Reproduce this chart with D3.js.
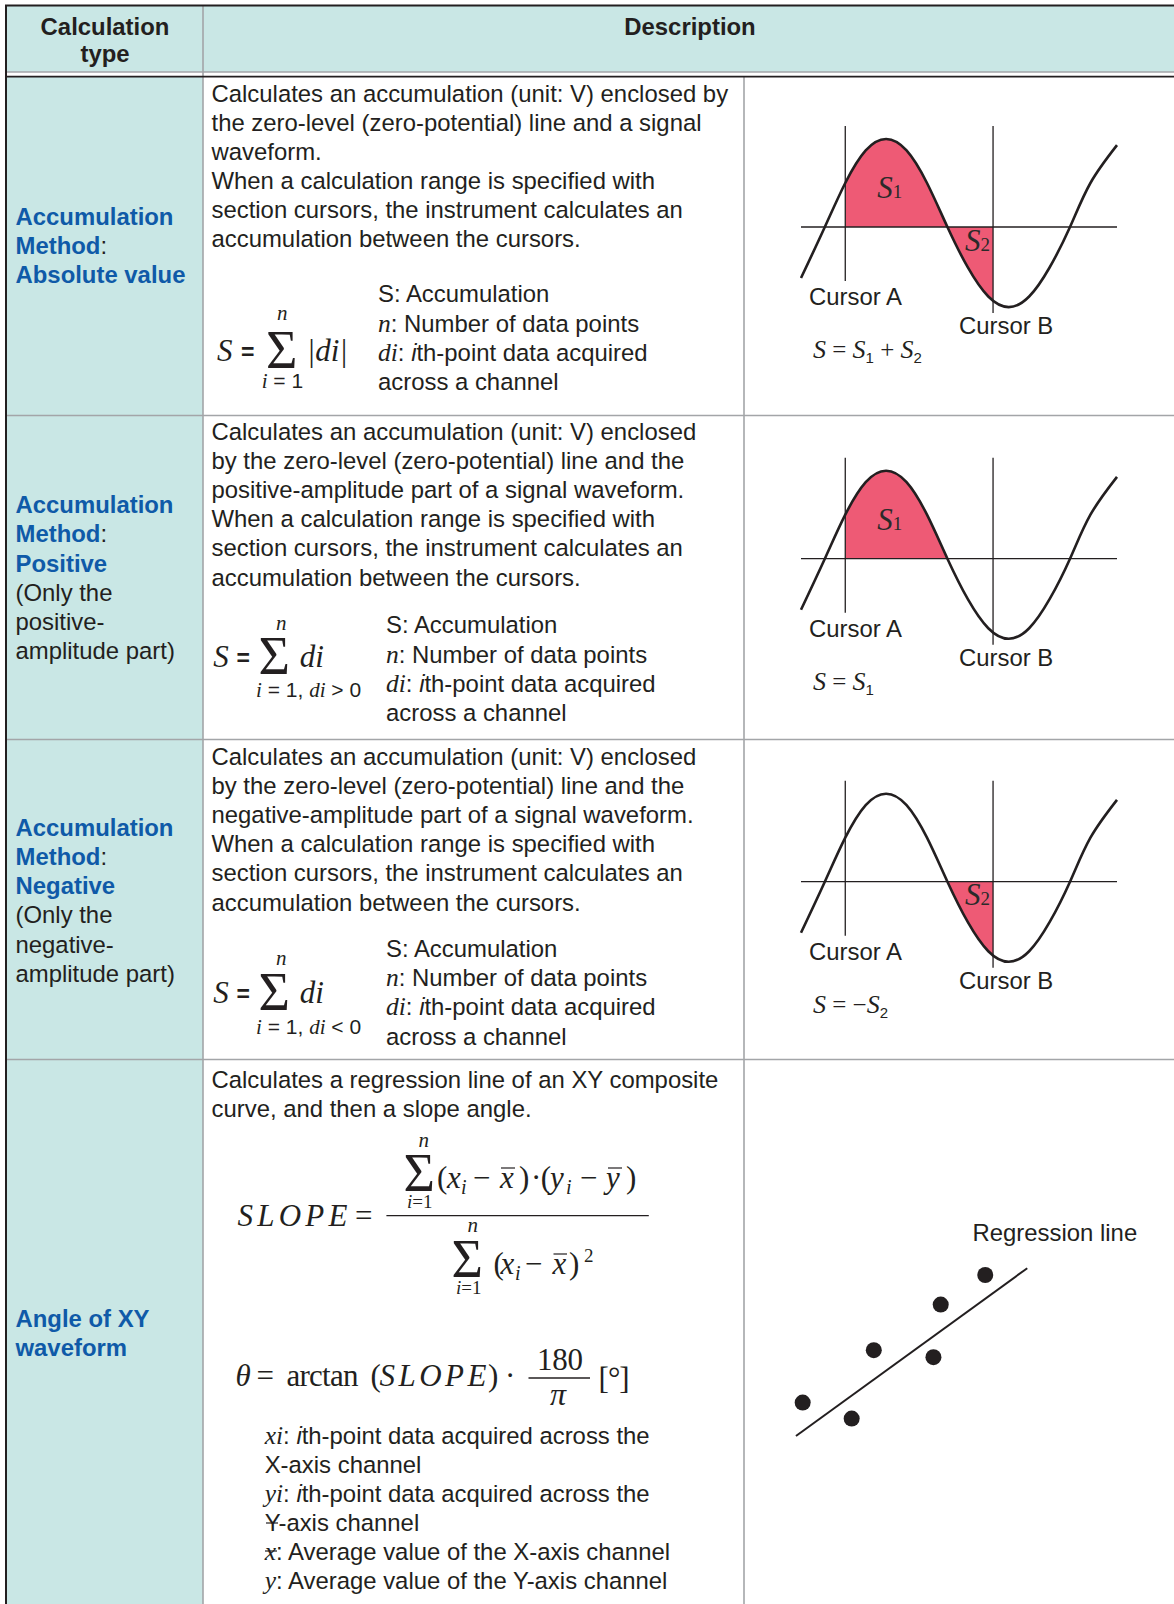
<!DOCTYPE html>
<html><head><meta charset="utf-8">
<script src="https://cdn.jsdelivr.net/npm/d3@7"></script>
<style>html,body{margin:0;padding:0;background:#fff}svg{display:block}</style>
</head><body><div id="chart"></div>
<script>
// ---------------- data ----------------
const headerLabels = [["Calculation", "type"], ["Description"]];

const typeLabels = [
  ["Accumulation", "Method:", "Absolute value"],
  ["Accumulation", "Method:", "Positive", "(Only the", "positive-", "amplitude part)"],
  ["Accumulation", "Method:", "Negative", "(Only the", "negative-", "amplitude part)"],
  ["Angle of XY", "waveform"]
];
const typeBlueLines = [3, 3, 3, 2];

const descLines = [
  ["Calculates an accumulation (unit: V) enclosed by",
   "the zero-level (zero-potential) line and a signal",
   "waveform.",
   "When a calculation range is specified with",
   "section cursors, the instrument calculates an",
   "accumulation between the cursors."],
  ["Calculates an accumulation (unit: V) enclosed",
   "by the zero-level (zero-potential) line and the",
   "positive-amplitude part of a signal waveform.",
   "When a calculation range is specified with",
   "section cursors, the instrument calculates an",
   "accumulation between the cursors."],
  ["Calculates an accumulation (unit: V) enclosed",
   "by the zero-level (zero-potential) line and the",
   "negative-amplitude part of a signal waveform.",
   "When a calculation range is specified with",
   "section cursors, the instrument calculates an",
   "accumulation between the cursors."],
  ["Calculates a regression line of an XY composite",
   "curve, and then a slope angle."]
];

const accLegend = [
  [["S: Accumulation", "s"]],
  [["n", "mi"], [": Number of data points", "s"]],
  [["di", "mi"], [": ", "s"], ["i", "si"], ["th-point data acquired", "s"]],
  [["across a channel", "s"]]
];
const accSumTerms = ["|di|", "di", "di"];
const accSumLower = [
  [["i", "mi"], [" = 1", "s"]],
  [["i", "mi"], [" = 1, ", "s"], ["di", "mi"], [" > 0", "s"]],
  [["i", "mi"], [" = 1, ", "s"], ["di", "mi"], [" < 0", "s"]]
];

// waveform: phase (deg) and normalised level
const waveDeg = [-35, 0, 30, 60, 90, 120, 150, 180, 210, 240, 270, 300, 330, 360, 390, 429];
const waveVal = [-0.58, 0, 0.5, 0.87, 1, 0.87, 0.5, 0, -0.46, -0.79, -0.91, -0.79, -0.46, 0, 0.5, 0.93];
const cursorDeg = [30, 247];
const cursorNames = ["Cursor A", "Cursor B"];
const fillRegions = [["S1", "S2"], ["S1"], ["S2"]];
const diagFormulas = [
  [["S", "mi"], [" = ", "m"], ["S", "mi"], ["1", "sub"], [" + ", "m"], ["S", "mi"], ["2", "sub"]],
  [["S", "mi"], [" = ", "m"], ["S", "mi"], ["1", "sub"]],
  [["S", "mi"], [" = \u2212", "m"], ["S", "mi"], ["2", "sub"]]
];

// XY scatter + regression line
const scatterX = [0.81, 2.56, 3.35, 5.48, 5.74, 7.33];
const scatterY = [1.87, 1.07, 4.49, 4.14, 6.77, 8.25];
const regX = [0.57, 8.83];
const regY = [0.20, 8.59];
const regLabel = "Regression line";

const slopeLegend = [
  [["xi", "mi"], [": ", "s"], ["i", "si"], ["th-point data acquired across the", "s"]],
  [["X-axis channel", "s"]],
  [["yi", "mi"], [": ", "s"], ["i", "si"], ["th-point data acquired across the", "s"]],
  [["Y-axis channel", "s"]],
  [["x", "mi"], [": Average value of the X-axis channel", "s"]],
  [["y", "mi"], [": Average value of the Y-axis channel", "s"]]
];

// ---------------- style ----------------
const INK = "#231f20", BLUE = "#0f5aa8", TEAL = "#c9e7e5", GRID = "#a3a5a8", PINK = "#ee5a75";
const SANS = "'Liberation Sans', Arial, Helvetica, sans-serif";
const SERIF = "'Liberation Serif', 'Times New Roman', serif";
const FS = 23.9;

const svg = d3.select("#chart").append("svg")
  .attr("width", 1174).attr("height", 1604).attr("viewBox", "0 0 1174 1604");
svg.append("rect").attr("width", 1174).attr("height", 1604).attr("fill", "#fff");

function txt(x, y, s, o = {}) {
  const t = svg.append("text").attr("x", x).attr("y", y).text(s)
    .attr("font-family", o.ff || SANS).attr("font-size", o.fs || FS)
    .attr("fill", o.fill || INK);
  if (o.it) t.attr("font-style", "italic");
  if (o.b) t.attr("font-weight", "bold");
  if (o.anchor) t.attr("text-anchor", o.anchor);
  if (o.len) t.attr("textLength", o.len).attr("lengthAdjust", "spacing");
  return t;
}
const STY = {
  s:   {ff: SANS},
  si:  {ff: SANS, it: true},
  mi:  {ff: SERIF, it: true, fs: 25.5},
  m:   {ff: SERIF, fs: 25},
  sub: {ff: SANS, fs: 15, dy: 5}
};
function rich(x, y, parts, o = {}) {
  const t = svg.append("text").attr("x", x).attr("y", y)
    .attr("font-family", SANS).attr("font-size", o.fs || FS).attr("fill", INK);
  let shift = 0;
  parts.forEach(([str, k]) => {
    const st = Object.assign({}, STY[k], (o.over || {})[k] || {});
    const sp = t.append("tspan").text(str).attr("font-family", st.ff);
    if (st.fs) sp.attr("font-size", st.fs);
    if (st.it) sp.attr("font-style", "italic");
    const want = st.dy || 0;
    if (want - shift) sp.attr("dy", want - shift);
    shift = want;
  });
  return t;
}
function hline(x1, x2, y, c, w) {
  svg.append("line").attr("x1", x1).attr("x2", x2).attr("y1", y).attr("y2", y).attr("stroke", c).attr("stroke-width", w);
}
function vline(x, y1, y2, c, w) {
  svg.append("line").attr("x1", x).attr("x2", x).attr("y1", y1).attr("y2", y2).attr("stroke", c).attr("stroke-width", w);
}

// ---------------- table frame ----------------
svg.append("rect").attr("x", 7).attr("y", 6).attr("width", 1167).attr("height", 66).attr("fill", TEAL);
svg.append("rect").attr("x", 7).attr("y", 77).attr("width", 196).attr("height", 1527).attr("fill", TEAL);

const rowLinesY = [415.5, 739.5, 1059.5];
hline(6, 1174, 72, GRID, 1.5);
rowLinesY.forEach(y => hline(6, 1174, y, GRID, 1.6));
vline(203, 6, 1604, GRID, 1.6);
vline(744, 77, 1604, GRID, 1.6);
hline(5, 1174, 76.6, INK, 1.6);
hline(5, 1174, 5.5, INK, 2);
vline(6, 5, 1604, INK, 2);

// ---------------- header ----------------
txt(105, 35, headerLabels[0][0], {b: true, anchor: "middle"});
txt(105, 62, headerLabels[0][1], {b: true, anchor: "middle"});
txt(690, 35, headerLabels[1][0], {b: true, anchor: "middle"});

// ---------------- left column ----------------
const typeY0 = [225, 513.3, 836, 1327];
typeLabels.forEach((lines, r) => {
  lines.forEach((s, i) => {
    const y = typeY0[r] + i * 29.15;
    if (i < typeBlueLines[r]) {
      if (s.endsWith(":")) {
        const t = txt(15.5, y, "", {});
        t.append("tspan").text(s.slice(0, -1)).attr("fill", BLUE).attr("font-weight", "bold");
        t.append("tspan").text(":").attr("fill", INK);
      } else {
        txt(15.5, y, s, {b: true, fill: BLUE});
      }
    } else {
      txt(15.5, y, s, {});
    }
  });
});

// ---------------- descriptions ----------------
const descY0 = [101.7, 440, 765, 1088.3];
descLines.forEach((lines, r) => lines.forEach((s, i) => txt(211.5, descY0[r] + i * 29.1, s)));

// ---------------- accumulation formulas ----------------
const listX = [378, 386, 386], listY0 = [302.3, 633.3, 956.7];
const fS = {x: [217, 213.3, 213.3], y: [360.7, 666.7, 1002.7]};
const fEq = [241, 236.5, 236.5];
const fSig = [266, 258.5, 258.5];
const fN = {x: [277, 276, 276], y: [320, 630, 965]};
const fLow = {x: [261.7, 256, 256], y: [388.3, 697.3, 1034]};
const fTerm = [306.7, 299.7, 299.7];
for (let r = 0; r < 3; r++) {
  accLegend.forEach((parts, i) => rich(listX[r], listY0[r] + i * 29.3, parts));
  txt(fS.x[r], fS.y[r], "S", {ff: SERIF, it: true, fs: 31});
  txt(fEq[r], fS.y[r] - 1, "=", {b: true, fs: 23});
  txt(fSig[r], fS.y[r] + 7.5, "\u03A3", {ff: SERIF, fs: 54});
  txt(fN.x[r], fN.y[r], "n", {ff: SERIF, it: true, fs: 21});
  rich(fLow.x[r], fLow.y[r], accSumLower[r], {fs: 21, over: {mi: {fs: 21}}});
  txt(fTerm[r], fS.y[r], accSumTerms[r], {ff: SERIF, it: true, fs: 31});
}

// ---------------- waveform diagrams ----------------
const diagZero = [227, 558.7, 881.7];
const xW = d3.scaleLinear().domain([waveDeg[0], waveDeg[waveDeg.length - 1]]).range([801, 1117]);
const wavePts = waveDeg.map((d, i) => [d, waveVal[i]]);
const defs = svg.append("defs");
diagZero.forEach((z, r) => {
  const yW = d3.scaleLinear().domain([-1, 1]).range([z + 88, z - 88]);
  const g = svg.append("g");
  const area = d3.area().x(d => xW(d[0])).y0(yW(0)).y1(d => yW(d[1])).curve(d3.curveNatural);
  fillRegions[r].forEach(reg => {
    const [a, b] = reg === "S1" ? [cursorDeg[0], 180] : [180, cursorDeg[1]];
    const id = "clip" + r + reg;
    defs.append("clipPath").attr("id", id).append("rect")
      .attr("x", xW(a)).attr("y", z - 130).attr("width", xW(b) - xW(a)).attr("height", 260);
    g.append("path").attr("d", area(wavePts)).attr("fill", PINK).attr("clip-path", `url(#${id})`);
  });
  g.append("line").attr("x1", xW(waveDeg[0])).attr("x2", xW(waveDeg[waveDeg.length - 1]))
    .attr("y1", yW(0)).attr("y2", yW(0)).attr("stroke", INK).attr("stroke-width", 1.3);
  const cursorBottom = [z + 54, z + 86];
  cursorDeg.forEach((c, i) => {
    g.append("line").attr("x1", xW(c)).attr("x2", xW(c)).attr("y1", z - 101).attr("y2", cursorBottom[i])
      .attr("stroke", INK).attr("stroke-width", 1.3);
  });
  g.append("path").attr("d", d3.line().x(d => xW(d[0])).y(d => yW(d[1])).curve(d3.curveNatural)(wavePts))
    .attr("fill", "none").attr("stroke", INK).attr("stroke-width", 2.6);

  // region labels
  fillRegions[r].forEach(reg => {
    const lx = reg === "S1" ? 877.3 : 965;
    const ly = reg === "S1" ? z - 28.7 : z + 23.5;
    const t = svg.append("text").attr("x", lx).attr("y", ly).attr("font-family", SERIF)
      .attr("fill", "#2a2a2a");
    t.append("tspan").text("S").attr("font-style", "italic").attr("font-size", 31);
    t.append("tspan").text(reg.slice(1)).attr("font-size", 19);
  });
  txt(809, z + 78, cursorNames[0]);
  txt(959, z + 107, cursorNames[1]);
  rich(813, z + 131, diagFormulas[r], {over: {mi: {fs: 26}, m: {fs: 25}}});
});

// ---------------- slope formula ----------------
const MF = 31;
function m(x, y, s, o = {}) {
  return txt(x, y, s, Object.assign({ff: SERIF, fs: MF}, o));
}
// SLOPE = fraction
m(237.4, 1225.7, "SLOPE", {it: true, len: 110});
m(354.9, 1225.7, "=");
hline(386.4, 648.8, 1215.7, INK, 1.3);
// numerator
m(403.5, 1191, "\u03A3", {fs: 54});
m(418.5, 1147, "n", {it: true, fs: 21});
const lowN = m(407, 1208, "", {fs: 19});
lowN.append("tspan").text("i").attr("font-style", "italic");
lowN.append("tspan").text("=1");
const numY = 1188;
m(437, numY, "(");
m(447, numY, "x", {it: true});
m(461, numY + 6, "i", {it: true, fs: 20});
m(473, numY, "\u2212");
m(500, numY, "x", {it: true});
hline(501, 515, numY - 20, INK, 1.2);
m(519, numY, ")");
m(531, numY, "\u00B7");
m(540.8, numY, "(");
m(550, numY, "y", {it: true});
m(566, numY + 6, "i", {it: true, fs: 20});
m(580, numY, "\u2212");
m(606, numY, "y", {it: true});
hline(608, 622, numY - 20, INK, 1.2);
m(626, numY, ")");
// denominator
const denY = 1274;
m(451.5, 1276.5, "\u03A3", {fs: 54});
m(467.5, 1232.3, "n", {it: true, fs: 21});
const lowD = m(456, 1294.3, "", {fs: 19});
lowD.append("tspan").text("i").attr("font-style", "italic");
lowD.append("tspan").text("=1");
m(493.4, denY, "(");
m(500.5, denY, "x", {it: true});
m(515, denY + 6, "i", {it: true, fs: 20});
m(525, denY, "\u2212");
m(552.5, denY, "x", {it: true});
hline(553.5, 567, denY - 20, INK, 1.2);
m(569, denY, ")");
m(584, denY - 12, "2", {fs: 19});

// theta line
const thY = 1386;
m(235.6, thY, "\u03B8", {it: true});
m(256.6, thY, "=");
m(286.5, thY, "arctan", {len: 72});
m(370.6, thY, "(");
m(379.4, thY, "SLOPE", {it: true, len: 107});
m(488, thY, ")");
m(505, thY, "\u00B7");
hline(528.5, 590, 1378, INK, 1.3);
m(537, 1370, "180", {len: 46});
m(550, 1405, "\u03C0", {fs: 32, it: true});
m(598.6, 1389, "[\u00B0]", {len: 31});

// legend under formula
slopeLegend.forEach((parts, i) => rich(264.7, 1443.5 + i * 29, parts));
hline(265, 277, 1443.5 + 4 * 29 - 8.5, INK, 1.2);   // bar of x̄
hline(266, 278, 1443.5 + 3 * 29 - 7.5, INK, 1.2);   // stroke seen across the Y

// ---------------- scatter diagram ----------------
const xS = d3.scaleLinear().domain([0, 10]).range([780, 1060]);
const yS = d3.scaleLinear().domain([0, 10]).range([1440, 1240]);
svg.append("line").attr("x1", xS(regX[0])).attr("y1", yS(regY[0])).attr("x2", xS(regX[1])).attr("y2", yS(regY[1]))
  .attr("stroke", INK).attr("stroke-width", 2);
svg.append("g").selectAll("circle").data(scatterX.map((x, i) => [x, scatterY[i]])).join("circle")
  .attr("cx", d => xS(d[0])).attr("cy", d => yS(d[1])).attr("r", 8).attr("fill", INK);
txt(972.5, 1241, regLabel);
</script>
</body></html>
